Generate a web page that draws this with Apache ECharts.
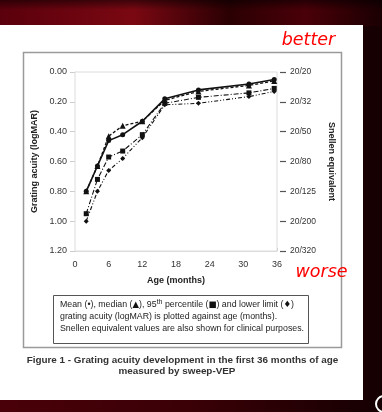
<!DOCTYPE html>
<html><head><meta charset="utf-8">
<script src="https://cdn.jsdelivr.net/npm/echarts@6/dist/echarts.min.js"></script>
<style>html,body{margin:0;padding:0;background:#2a0004;}#c{width:382px;height:412px;}</style>
</head><body><div id="c"></div>
<script>
var ages = [2, 4, 6, 8.5, 12, 16, 22, 31, 35.5];
var meanVals = [0.80, 0.63, 0.46, 0.42, 0.33, 0.18, 0.12, 0.08, 0.05];
var medianVals = [0.80, 0.63, 0.43, 0.36, 0.33, 0.19, 0.13, 0.09, 0.06];
var p95Vals = [0.95, 0.72, 0.57, 0.53, 0.42, 0.21, 0.17, 0.14, 0.11];
var lowerVals = [1.00, 0.80, 0.66, 0.58, 0.44, 0.22, 0.21, 0.165, 0.13];
var snellenLabels = ['20/20', '20/32', '20/50', '20/80', '20/125', '20/200', '20/320'];
var xTicks = [0, 6, 12, 18, 24, 30, 36];

function pairs(v){ return ages.map(function(a,i){ return [a, v[i]]; }); }

var chart = echarts.init(document.getElementById('c'), null, {renderer:'canvas'});
var F = 'Liberation Sans, Arial, sans-serif';
var txt = '#333';
function mk(name, data, sym, dash, w){
  return {name:name, type:'line', data:pairs(data), symbol:sym, symbolSize: sym==='triangle'?6:5,
    itemStyle:{color:'#111'}, lineStyle:{color:'#111', width:w, type:dash}, animation:false, z:5};
}
chart.setOption({
  animation:false,
  grid:{left:75, right:105, top:72, bottom:161, show:true, borderColor:'#dcdcdc', borderWidth:1, backgroundColor:'#fff', z:3},
  xAxis:{type:'value', min:0, max:36, interval:6,
    name:'Age (months)', nameLocation:'middle', nameGap:25,
    nameTextStyle:{fontFamily:F, fontSize:9, fontWeight:'bold', color:'#222'},
    axisLine:{onZero:false, lineStyle:{color:'#dcdcdc'}},
    axisTick:{show:true, inside:true, length:3, lineStyle:{color:'#ccc'}},
    axisLabel:{fontFamily:F, fontSize:9, color:txt, margin:9,
      formatter:function(v){ return xTicks.indexOf(v)>=0 ? String(v) : ''; }},
    splitLine:{show:false}},
  yAxis:[{type:'value', min:0, max:1.2, interval:0.2, inverse:true, position:'left',
    name:'Grating acuity (logMAR)', nameLocation:'middle', nameGap:31, nameRotate:90,
    nameTextStyle:{fontFamily:F, fontSize:9, fontWeight:'bold', color:'#222'},
    axisLine:{show:true, lineStyle:{color:'#dcdcdc'}},
    axisTick:{show:true, length:5, lineStyle:{color:'#ccc'}},
    axisLabel:{fontFamily:F, fontSize:9, color:txt, margin:8, formatter:function(v){ return v.toFixed(2); }},
    splitLine:{show:false}},
   {type:'value', min:0, max:1.2, interval:0.2, inverse:true, position:'right', offset:3,
    name:'Snellen equivalent', nameLocation:'middle', nameGap:46, nameRotate:-90,
    nameTextStyle:{fontFamily:F, fontSize:9, fontWeight:'bold', color:'#222'},
    axisLine:{show:false},
    axisTick:{show:true, length:6, lineStyle:{color:'#555', width:1.2}},
    axisLabel:{fontFamily:F, fontSize:8.5, color:txt, margin:10,
      formatter:function(v){ var i=Math.round(v/0.2); return snellenLabels[i]||''; }},
    splitLine:{show:false}}],
  series:[
    mk('Lower limit', lowerVals, 'diamond', [4,2,1,2,1,2], 1.1),
    mk('95th percentile', p95Vals, 'rect', [5,2,1,2], 1.1),
    mk('Median', medianVals, 'triangle', [3,2], 1.3),
    mk('Mean', meanVals, 'circle', 'solid', 1.6)
  ],
  graphic:[
    {type:'rect', shape:{x:0,y:0,width:382,height:412}, z:-10, silent:true,
      style:{fill:new echarts.graphic.LinearGradient(0,0,1,0,[{offset:0,color:'#4a0008'},{offset:0.5,color:'#3a0006'},{offset:1,color:'#150002'}])}},
    {type:'rect', shape:{x:0,y:0,width:382,height:26}, z:-9, silent:true,
      style:{fill:new echarts.graphic.LinearGradient(0,0,1,0,[{offset:0,color:'#5a000c'},{offset:0.35,color:'#7a0812'},{offset:0.6,color:'#2a0003'},{offset:0.8,color:'#4a0008'},{offset:1,color:'#1a0002'}])}},
    {type:'rect', shape:{x:0,y:0,width:382,height:10}, z:-8, silent:true,
      style:{fill:new echarts.graphic.LinearGradient(0,0,0,1,[{offset:0,color:'rgba(0,0,0,0.5)'},{offset:1,color:'rgba(0,0,0,0)'}])}},
    {type:'rect', shape:{x:0,y:25,width:363,height:375}, z:-5, silent:true, style:{fill:'#fff'}},
    {type:'rect', shape:{x:23.5,y:52.5,width:318,height:295}, z:-4, silent:true, style:{fill:'#fff', stroke:'#9a9a9a', lineWidth:1.5}},
    {type:'circle', shape:{cx:384, cy:404, r:8}, z:-4, silent:true, style:{fill:'none', stroke:'#fff', lineWidth:2}},
    {type:'text', x:308.5, y:40, z:10, style:{text:'better', fontFamily:'DejaVu Sans, sans-serif', fontStyle:'italic', fontSize:17.5, fill:'#f00', textAlign:'center', textVerticalAlign:'middle'}},
    {type:'text', x:321.5, y:272, z:10, style:{text:'worse', fontFamily:'DejaVu Sans, sans-serif', fontStyle:'italic', fontSize:17.5, fill:'#f00', textAlign:'center', textVerticalAlign:'middle'}},
    {type:'rect', shape:{x:53.5,y:295.5,width:255,height:48}, z:4, silent:true, style:{fill:'#fff', stroke:'#555', lineWidth:1}},
    {type:'text', x:60, y:305, z:10, style:{
      text:'{a|Mean (•), median (}{s|▲}{a|), 95}{sup|th}{a| percentile (}{s|■}{a|) and lower limit (}{s|♦}{a|)}',
      textVerticalAlign:'middle',
      rich:{a:{fontFamily:F, fontSize:8.8, fill:'#222'}, s:{fontFamily:'DejaVu Sans', fontSize:8.5, fill:'#111'}, sup:{fontFamily:F, fontSize:7, fill:'#222', padding:[0,0,6,0]}}}},
    {type:'text', x:60, y:316.5, z:10, style:{text:'grating acuity (logMAR) is plotted against age (months).', fontFamily:F, fontSize:8.8, fill:'#222', textVerticalAlign:'middle'}},
    {type:'text', x:60, y:328.5, z:10, style:{text:'Snellen equivalent values are also shown for clinical purposes.', fontFamily:F, fontSize:8.8, fill:'#222', textVerticalAlign:'middle'}},
    {type:'text', x:182.5, y:360, z:10, style:{text:'Figure 1 - Grating acuity development in the first 36 months of age', fontFamily:F, fontWeight:'bold', fontSize:9.9, fill:'#333', textAlign:'center', textVerticalAlign:'middle'}},
    {type:'text', x:177, y:371, z:10, style:{text:'measured by sweep-VEP', fontFamily:F, fontWeight:'bold', fontSize:9.9, fill:'#333', textAlign:'center', textVerticalAlign:'middle'}}
  ]
});
</script></body></html>
